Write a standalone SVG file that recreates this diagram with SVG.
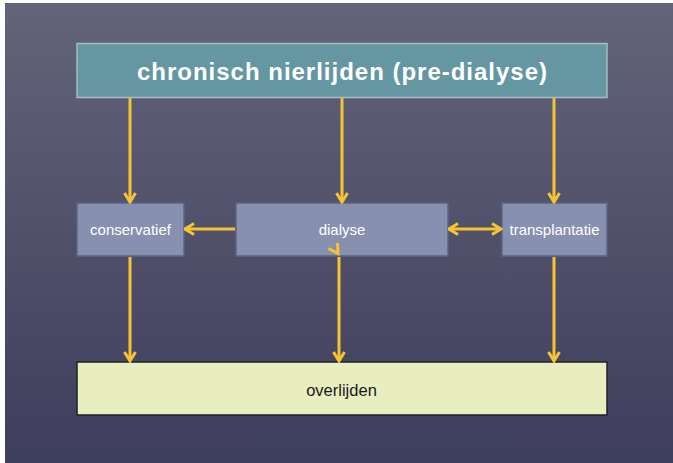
<svg xmlns="http://www.w3.org/2000/svg" width="673" height="463" viewBox="0 0 673 463">
  <defs>
    <linearGradient id="bg" x1="0" y1="0" x2="0" y2="1">
      <stop offset="0" stop-color="#636379"/>
      <stop offset="1" stop-color="#3e3e5d"/>
    </linearGradient>
    <marker id="ah" viewBox="0 0 12 14" refX="10.5" refY="7" markerWidth="12" markerHeight="14" markerUnits="userSpaceOnUse" orient="auto-start-reverse">
      <path d="M1.5,1.5 L10.5,7 L1.5,12.5" fill="none" stroke="#f6c431" stroke-width="3" stroke-linejoin="miter"/>
    </marker>
    <style>
      .mid { fill: #8890b0; stroke: #5c6485; stroke-width: 1.5; }
      .lbl { font-family: "Liberation Sans", Arial, sans-serif; fill: #ffffff; font-size: 15px; text-anchor: middle; }
      .con { fill: none; stroke: #f6c431; stroke-width: 3; }
    </style>
  </defs>
  <rect x="0" y="0" width="673" height="463" fill="#ffffff"/>
  <rect x="5" y="3" width="668" height="460" fill="url(#bg)"/>

  <g id="chronisch">
    <rect x="77" y="43.5" width="530" height="54" fill="#6497a1" stroke="#a9bcc2" stroke-width="1.5"/>
    <text x="342" y="80" font-family="'Liberation Sans', Arial, sans-serif" font-size="24" font-weight="bold" fill="#ffffff" text-anchor="middle" textLength="410" lengthAdjust="spacing">chronisch nierlijden (pre-dialyse)</text>
  </g>

  <g id="conservatief">
    <rect class="mid" x="77" y="203" width="107" height="53"/>
    <text class="lbl" x="130.5" y="235">conservatief</text>
  </g>

  <g id="dialyse">
    <rect class="mid" x="236" y="203" width="212" height="53"/>
    <text class="lbl" x="342" y="235">dialyse</text>
  </g>

  <g id="transplantatie">
    <rect class="mid" x="502" y="203" width="105" height="53"/>
    <text class="lbl" x="554.5" y="235">transplantatie</text>
  </g>

  <g id="overlijden">
    <rect x="77" y="362" width="530" height="53" fill="#e8eec0" stroke="#222222" stroke-width="1.5"/>
    <text x="341.5" y="395.5" font-family="'Liberation Sans', Arial, sans-serif" font-size="16.5" fill="#1a1a1a" text-anchor="middle">overlijden</text>
  </g>

  <g id="connectors">
    <line class="con" x1="130" y1="98" x2="130" y2="202" marker-end="url(#ah)"/>
    <line class="con" x1="342" y1="98" x2="342" y2="202" marker-end="url(#ah)"/>
    <line class="con" x1="554" y1="98" x2="554" y2="202" marker-end="url(#ah)"/>
    <line class="con" x1="235" y1="229" x2="185" y2="229" marker-end="url(#ah)"/>
    <line class="con" x1="449" y1="229" x2="501" y2="229" marker-start="url(#ah)" marker-end="url(#ah)"/>
    <line class="con" x1="130" y1="257" x2="130" y2="361" marker-end="url(#ah)"/>
    <line class="con" x1="339" y1="257" x2="339" y2="361" marker-end="url(#ah)"/>
    <line class="con" x1="554" y1="257" x2="554" y2="361" marker-end="url(#ah)"/>
    <path class="con" d="M328.5,248.5 L338,253.5 L337.5,243"/>
  </g>
</svg>
